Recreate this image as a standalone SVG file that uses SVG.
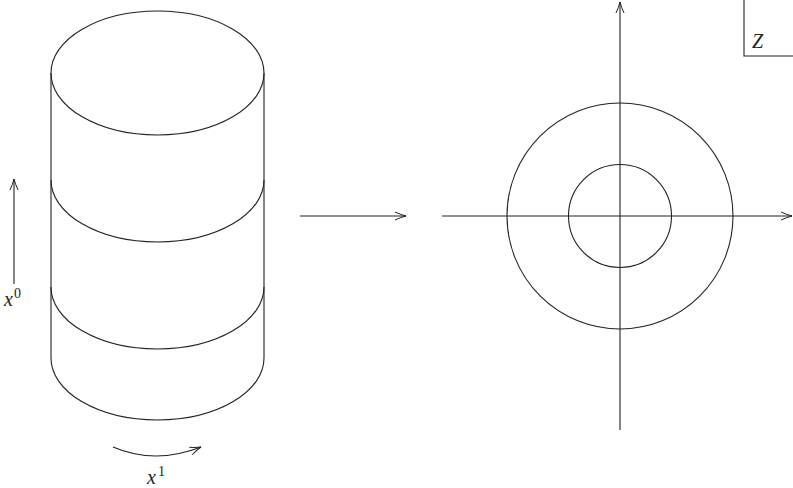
<svg xmlns="http://www.w3.org/2000/svg" width="793" height="488" viewBox="0 0 793 488">
<defs>
<marker id="arr" viewBox="-12 -6 14 12" markerWidth="14" markerHeight="12" refX="0" refY="0" orient="auto" markerUnits="userSpaceOnUse">
<path d="M-11,-4 Q-5,-1.2 0,0 Q-5,1.2 -11,4" fill="none" stroke="#222" stroke-width="1"/>
</marker>
</defs>
<style>
.ln{fill:none;stroke:#222;stroke-width:1.1}
.lab{font-family:"Liberation Serif",serif;font-style:italic;font-size:20px;fill:#222}
.sup{font-family:"Liberation Serif",serif;font-size:14px;fill:#222}
</style>
<g id="cylinder">
<ellipse class="ln" cx="157.5" cy="73" rx="106.5" ry="62"/>
<line class="ln" x1="51" y1="73" x2="51" y2="358"/>
<line class="ln" x1="264" y1="73" x2="264" y2="358"/>
<path class="ln" d="M51,180 A106.5,62 0 0 0 264,180"/>
<path class="ln" d="M51,287 A106.5,62 0 0 0 264,287"/>
<path class="ln" d="M51,358 A106.5,62 0 0 0 264,358"/>
</g>
<g id="plane">
<circle class="ln" cx="620" cy="216" r="113"/>
<circle class="ln" cx="620" cy="216" r="51.5"/>
</g>
<g id="connectors">
<line class="ln" x1="14" y1="284" x2="14" y2="179" marker-end="url(#arr)"/>
<path class="ln" d="M113,447 Q155,465 201,447" marker-end="url(#arr)"/>
<line class="ln" x1="300" y1="216" x2="406" y2="216" marker-end="url(#arr)"/>
<line class="ln" x1="442" y1="216" x2="792" y2="216" marker-end="url(#arr)"/>
<line class="ln" x1="620" y1="430" x2="620" y2="2" marker-end="url(#arr)"/>
</g>
<g id="z-box">
<polyline class="ln" points="744,0 744,56 793,56"/>
<text class="lab" x="752" y="48">Z</text>
</g>
<g id="labels">
<text class="lab" x="4" y="306">x</text><text class="sup" x="14" y="298">0</text>
<text class="lab" x="147" y="484">x</text><text class="sup" x="158" y="476">1</text>
</g>
</svg>
